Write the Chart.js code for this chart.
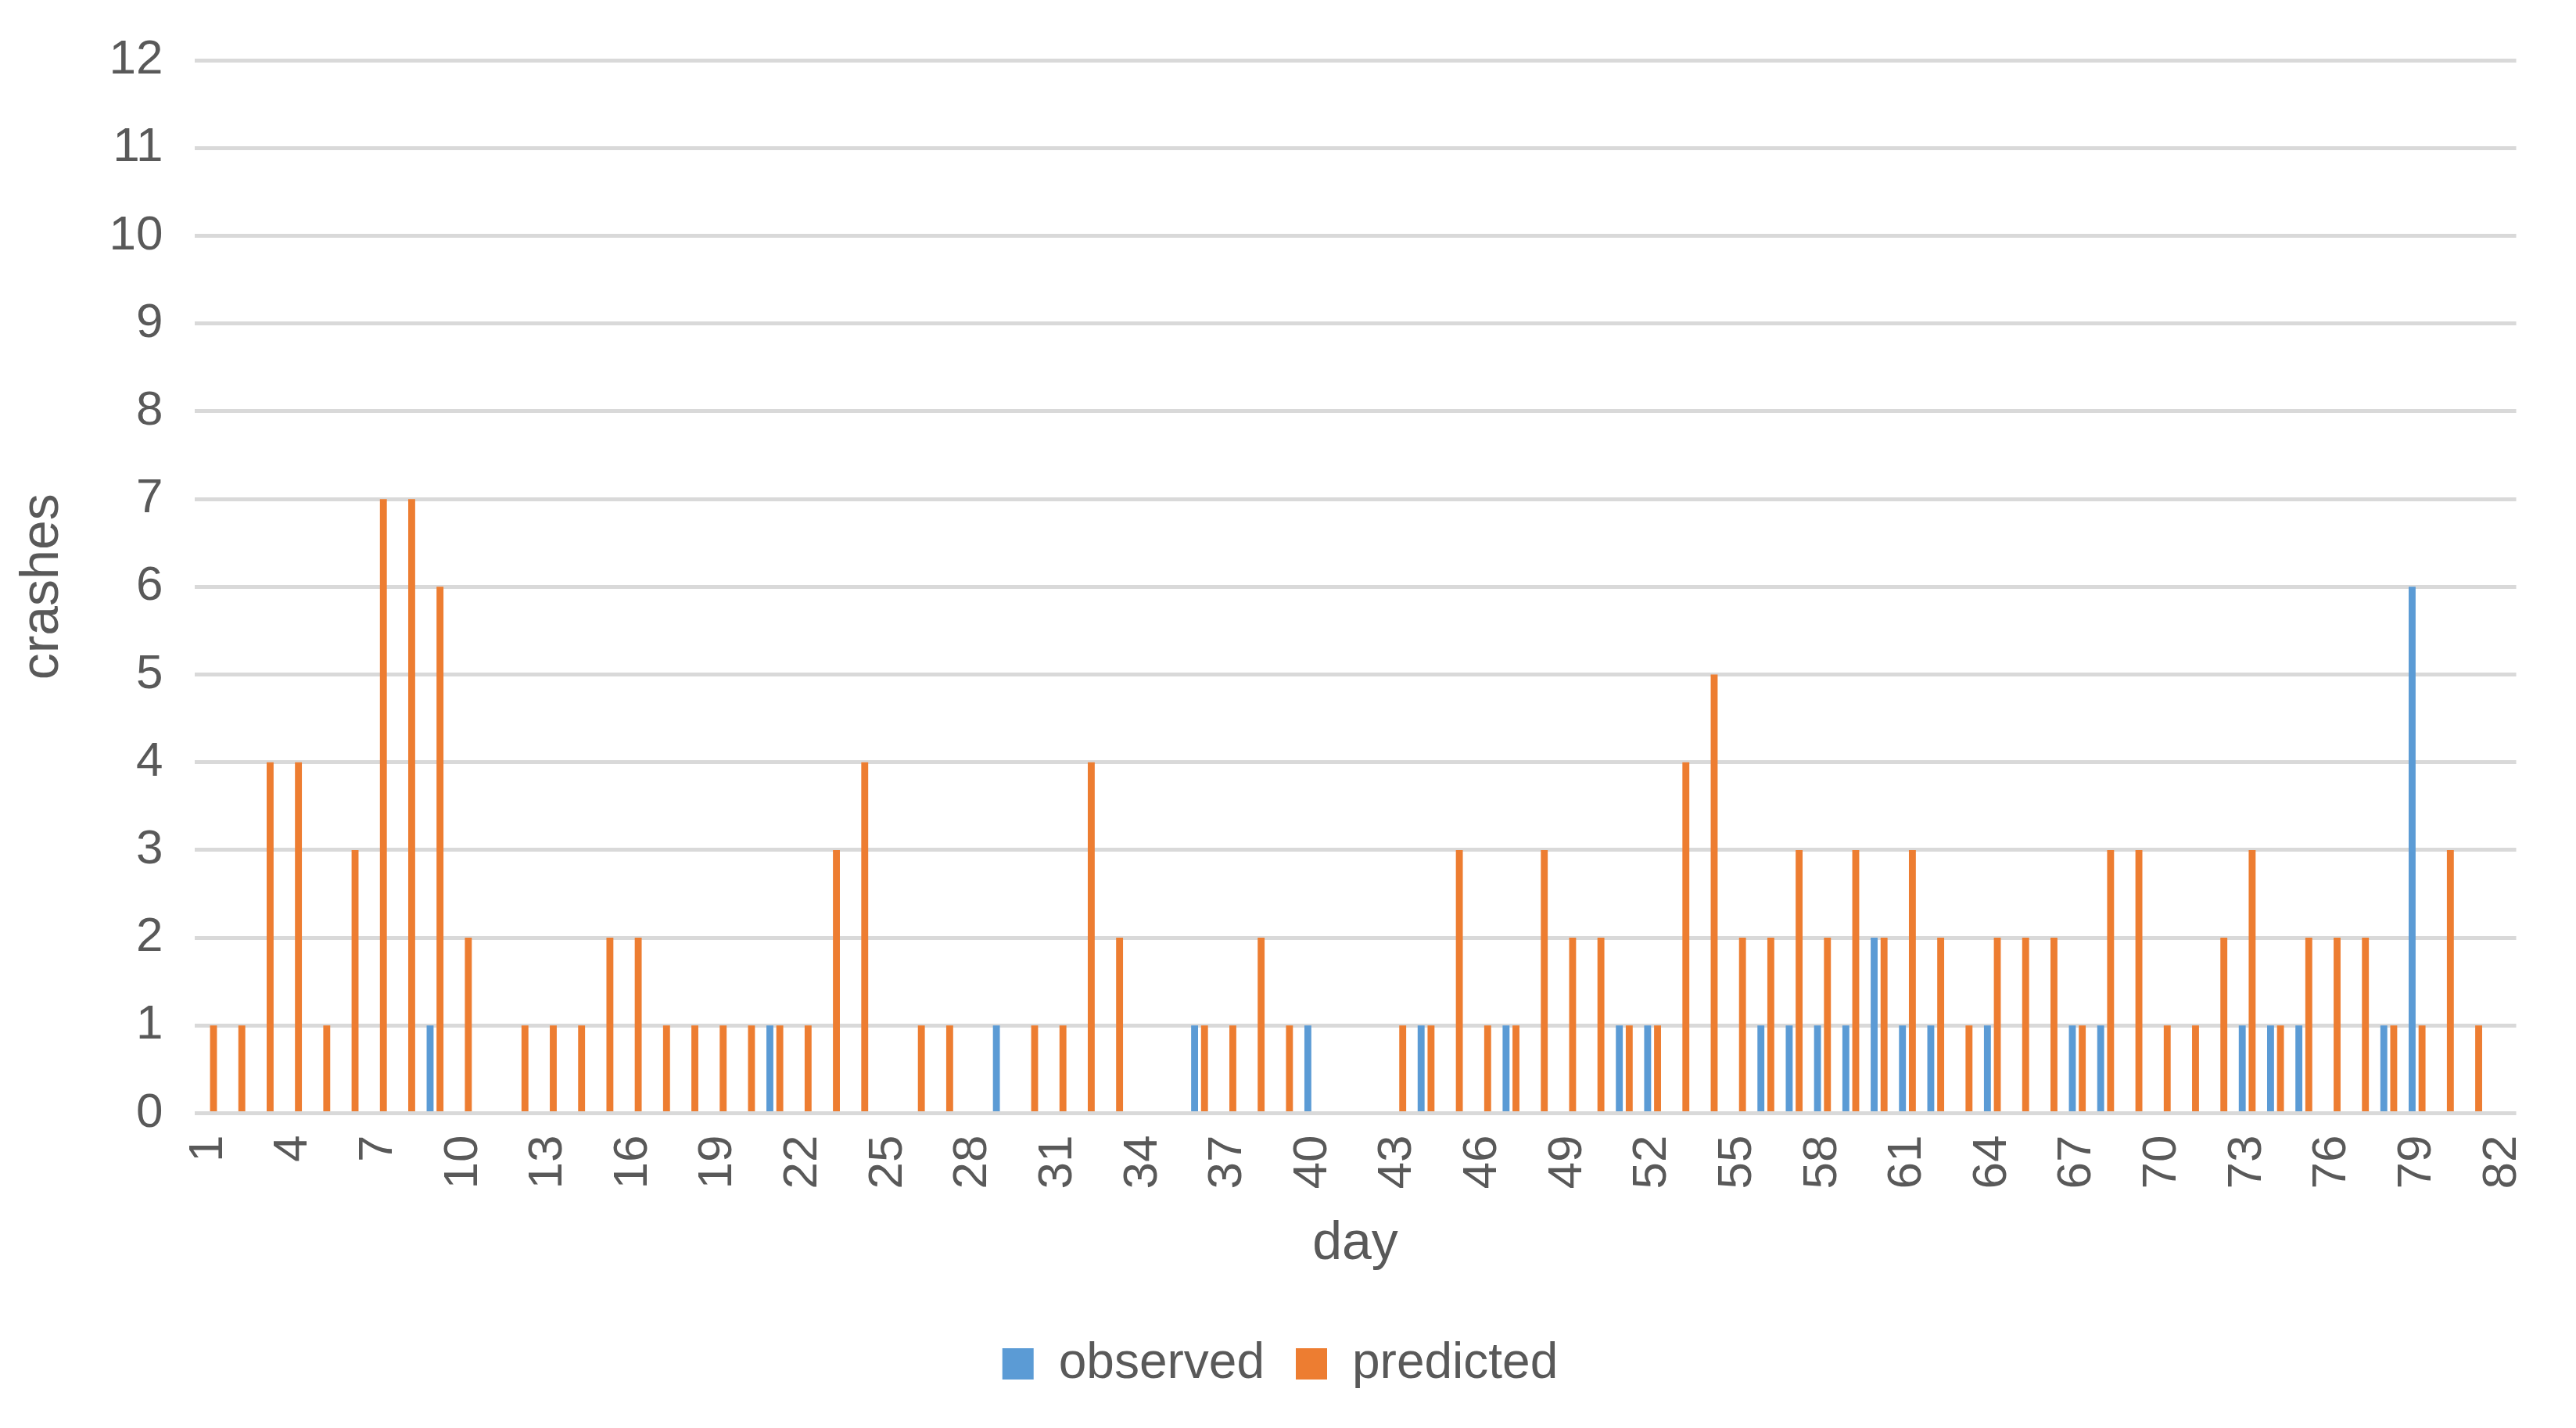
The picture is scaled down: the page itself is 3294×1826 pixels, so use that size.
<!DOCTYPE html>
<html><head><meta charset="utf-8">
<script src="https://cdn.jsdelivr.net/npm/chart.js@4"></script>
<style>html,body{margin:0;padding:0;background:#fff;}#w{width:3294px;height:1826px;}</style>
</head><body><div id="w"><canvas id="c" width="3294" height="1826"></canvas></div>
<script>
const days = Array.from({length: 82}, (_, i) => String(i + 1));
const observed = [0,0,0,0,0,0,0,0,1,0, 0,0,0,0,0,0,0,0,0,0, 1,0,0,0,0,0,0,0,1,0, 0,0,0,0,0,1,0,0,0,1, 0,0,0,1,0,0,1,0,0,0, 1,1,0,0,0,1,1,1,1,2, 1,1,0,1,0,0,1,1,0,0, 0,0,1,1,1,0,0,1,6,0, 0,0];
const predicted = [1,1,4,4,1,3,7,7,6,2, 0,1,1,1,2,2,1,1,1,1, 1,1,3,4,0,1,1,0,0,1, 1,4,2,0,0,1,1,2,1,0, 0,0,1,1,3,1,1,3,2,2, 1,1,4,5,2,2,3,2,3,2, 3,2,1,2,2,2,1,3,3,1, 1,2,3,1,2,2,2,1,1,3, 1,0];
const yTicks = [0,1,2,3,4,5,6,7,8,9,10,11,12];
const grey = '#595959';
new Chart(document.getElementById('c'), {
  type: 'bar',
  data: { labels: days, datasets: [
    { label: 'observed', data: observed, backgroundColor: '#5b9bd5', categoryPercentage: 0.7, barPercentage: 0.7 },
    { label: 'predicted', data: predicted, backgroundColor: '#ed7d31', categoryPercentage: 0.7, barPercentage: 0.7 }
  ]},
  options: {
    responsive: false, devicePixelRatio: 1, animation: false,
    layout: { padding: { left: 10, right: 30, top: 10, bottom: 40 } },
    plugins: {
      legend: { position: 'bottom', labels: { font: { size: 64, family: 'Liberation Sans' }, color: grey, boxWidth: 40, boxHeight: 40, padding: 40 } },
      tooltip: { enabled: false }
    },
    scales: {
      x: {
        grid: { display: false }, border: { display: false },
        title: { display: true, text: 'day', font: { size: 68, family: 'Liberation Sans' }, color: grey, padding: { top: 10, bottom: 40 } },
        ticks: { autoSkip: false, minRotation: 90, maxRotation: 90, color: grey, padding: 20, font: { size: 62, family: 'Liberation Sans' },
          callback: (v, i) => (i % 3 === 0 ? days[i] : '') }
      },
      y: {
        min: 0, max: 12,
        grid: { color: '#d9d9d9', lineWidth: 5, drawTicks: false }, border: { display: false },
        title: { display: true, text: 'crashes', font: { size: 68, family: 'Liberation Sans' }, color: grey },
        afterBuildTicks: (ax) => { ax.ticks = yTicks.map(v => ({ value: v })); },
        ticks: { color: grey, font: { size: 62, family: 'Liberation Sans' }, padding: 40 }
      }
    }
  }
});
</script></body></html>
